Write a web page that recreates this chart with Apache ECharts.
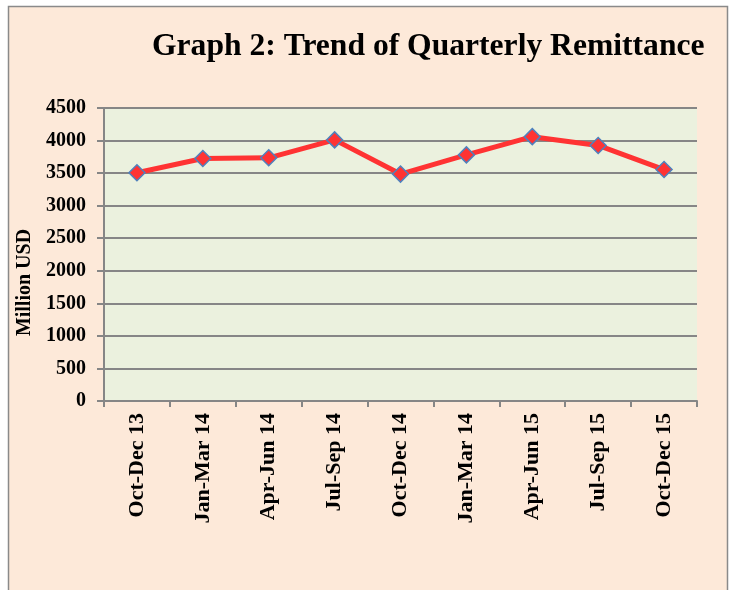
<!DOCTYPE html>
<html>
<head>
<meta charset="utf-8">
<script src="https://cdn.jsdelivr.net/npm/echarts@6/dist/echarts.min.js"></script>
<style>
  html, body { margin: 0; padding: 0; background: #fff; }
  #chart { width: 732px; height: 590px; }
</style>
</head>
<body>
<div id="chart"></div>
<script>
var quarters = ['Oct-Dec 13', 'Jan-Mar 14', 'Apr-Jun 14', 'Jul-Sep 14', 'Oct-Dec 14',
                'Jan-Mar 14', 'Apr-Jun 15', 'Jul-Sep 15', 'Oct-Dec 15'];
var remittance = [3505, 3725, 3735, 4010, 3485, 3780, 4060, 3925, 3555];
var yTicks = [0, 500, 1000, 1500, 2000, 2500, 3000, 3500, 4000, 4500];

var serif = '"Liberation Serif", "Times New Roman", serif';

var myChart = echarts.init(document.getElementById('chart'));
myChart.setOption({
    animation: false,
    graphic: [{
        type: 'rect',
        z: -10,
        shape: { x: 8.5, y: 6.5, width: 719, height: 590 },
        style: { fill: '#FDE9D9', stroke: '#8a8a8a', lineWidth: 1.5 }
    }],
    title: {
        text: 'Graph 2: Trend of Quarterly Remittance',
        left: 147,
        top: 26,
        textStyle: { fontFamily: serif, fontWeight: 'bold', fontSize: 31.6, color: '#000' }
    },
    grid: {
        left: 104, right: 35, top: 108, bottom: 189,
        outerBoundsMode: 'none',
        containLabel: false,
        show: true,
        backgroundColor: '#EBF1DE',
        borderWidth: 0
    },
    xAxis: {
        type: 'category',
        data: quarters,
        boundaryGap: true,
        axisLine: { lineStyle: { color: '#868686', width: 2 } },
        axisTick: { show: true, length: 6, lineStyle: { color: '#868686', width: 2 } },
        axisLabel: {
            rotate: 90,
            margin: 12,
            fontFamily: serif, fontWeight: 'bold', fontSize: 22, color: '#000'
        }
    },
    yAxis: {
        type: 'value',
        min: yTicks[0],
        max: yTicks[yTicks.length - 1],
        interval: 500,
        name: 'Million USD',
        nameLocation: 'middle',
        nameGap: 67,
        nameTextStyle: {
            fontFamily: serif, fontWeight: 'bold', fontSize: 20, color: '#000',
            padding: [0, 56, 0, 0]
        },
        axisLine: { show: true, lineStyle: { color: '#868686', width: 2 } },
        axisTick: { show: true, length: 7, lineStyle: { color: '#868686', width: 2 } },
        splitLine: { lineStyle: { color: '#868686', width: 2 } },
        axisLabel: {
            margin: 18,
            formatter: function (v) { return String(v); },
            fontFamily: serif, fontWeight: 'bold', fontSize: 20, color: '#000'
        }
    },
    series: [{
        type: 'line',
        data: remittance,
        symbol: 'diamond',
        symbolSize: 16,
        lineStyle: { color: '#FF3333', width: 5 },
        itemStyle: { color: '#FF3333', borderColor: '#4F81BD', borderWidth: 1.5 }
    }]
});
</script>
</body>
</html>
